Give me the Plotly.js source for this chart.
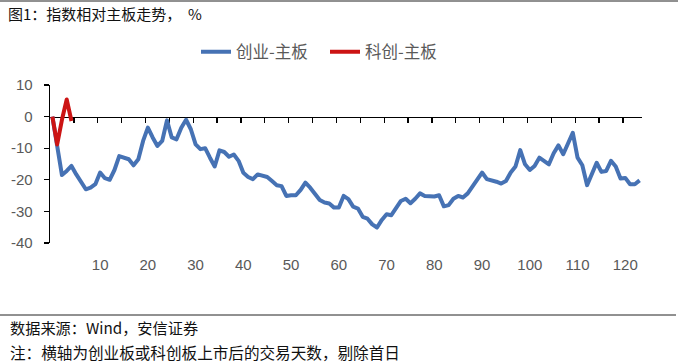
<!DOCTYPE html>
<html>
<head>
<meta charset="utf-8">
<script src="https://cdn.plot.ly/plotly-3.0.1.min.js"></script>
<style>
html,body{margin:0;padding:0;background:#fff;}
#chart{width:678px;height:362px;}
.js-line{stroke-linejoin:round;}
</style>
</head>
<body>
<div id="chart"></div>
<script>
// ---- data ----
var tradingDays = [0,1,2,3,4,5,6,7,8,9,10,11,12,13,14,15,16,17,18,19,20,21,22,23,24,25,26,27,28,29,30,31,32,33,34,35,36,37,38,39,40,41,42,43,44,45,46,47,48,49,50,51,52,53,54,55,56,57,58,59,60,61,62,63,64,65,66,67,68,69,70,71,72,73,74,75,76,77,78,79,80,81,82,83,84,85,86,87,88,89,90,91,92,93,94,95,96,97,98,99,100,101,102,103,104,105,106,107,108,109,110,111,112,113,114,115,116,117,118,119,120,121,122,123];
var chinextVsMain = [0,-9.3,-18.5,-17.2,-15.6,-18.3,-20.7,-23,-22.5,-21.4,
  -17.7,-19.5,-20,-16.9,-12.5,-13.1,-13.5,-15.4,-13.5,-7.7,
  -3.5,-6.6,-9.3,-7.7,-1.2,-6.6,-7.2,-3.5,-1.0,-4,
  -8.8,-10.3,-10,-13,-15.8,-10.7,-11.2,-12.7,-12,-14,
  -17.8,-19.1,-19.8,-18.3,-18.8,-19.1,-20.4,-21.7,-22,-25.1,
  -24.9,-24.9,-23.2,-20.9,-22.5,-24.6,-26.4,-27.2,-27.5,-28.8,
  -28.8,-25.1,-26.1,-28.5,-29.1,-31.7,-32.3,-34.1,-35.1,-32.7,
  -30.9,-31.2,-28.8,-26.7,-26,-27.4,-26,-24.3,-25.1,-25.2,
  -25.3,-24.9,-28.4,-28,-26,-25.1,-25.6,-24.3,-22.2,-20.1,
  -17.7,-19.8,-20.1,-20.6,-21.2,-20.4,-17.7,-15.8,-10.6,-15.1,
  -16.9,-15.6,-13,-14,-15.1,-11.6,-9.1,-11.9,-8.2,-5.1,
  -13,-15.4,-21.7,-18.3,-14.6,-17.5,-17.2,-14,-15.8,-19.6,
  -19.4,-21.4,-21.4,-20.2];
var starDays = [0,1,2,3,4];
var starVsMain = [0,-8.8,-1,5.4,-1.4];
var seriesNames = ['创业-主板','科创-主板'];
var xTickVals = [10,20,30,40,50,60,70,80,90,100,110,120];
var xTickText = ['10','20','30','40','50','60','70','80','90','100','110','120'];
var xMarkVals = [4.5,9.5,14.5,19.5,24.5,29.5,34.5,39.5,44.5,49.5,54.5,59.5,64.5,69.5,74.5,79.5,84.5,89.5,94.5,99.5,104.5,109.5,114.5,119.5];
var yTickVals = [-40,-30,-20,-10,0,10];
var yTickText = ['-40','-30','-20','-10','0','10'];
var titleText = '图1：指数相对主板走势，\u00a0\u00a0%';
var sourceText = '数据来源：Wind，安信证券';
var noteText = '注：横轴为创业板或科创板上市后的交易天数，剔除首日';

// ---- layout geometry ----
var L = 50, R = 36, T = 85, B = 119;
var W = 678 - L - R, H = 362 - T - B;
function px(xp){ return (xp - L) / W; }
function py(yp){ return (T + H - yp) / H; }

var cjk = 'Noto Sans CJK SC';
var tickFont = {family:'Liberation Sans, Arial, sans-serif', size:15, color:'#595959'};

var traces = [
  {x: tradingDays, y: chinextVsMain, type:'scatter', mode:'lines', name: seriesNames[0],
   xaxis:'x', yaxis:'y', legend:'legend',
   line:{color:'#4672B4', width:4}},
  {x: starDays, y: starVsMain, type:'scatter', mode:'lines', name: seriesNames[1],
   xaxis:'x2', yaxis:'y', legend:'legend2',
   line:{color:'#CC1414', width:4}}
];

var layout = {
  width:678, height:362,
  margin:{l:L, r:R, t:T, b:B, pad:0},
  paper_bgcolor:'#fff', plot_bgcolor:'#fff',
  showlegend:true,
  title:{text:titleText, xref:'container', yref:'container', x:8/678, xanchor:'left',
         y:1-15/362, yanchor:'middle',
         font:{family:cjk, size:15, color:'#111'}},
  xaxis:{range:[-0.5,123.5], tickvals:xTickVals, ticktext:xTickText,
         showline:false, showgrid:false, zeroline:false, ticks:'',
         ticklabelstandoff:11, tickfont:tickFont, fixedrange:true},
  xaxis2:{range:[-0.5,123.5], overlaying:'x', anchor:'free', position:0.8,
          tickvals:xMarkVals, showticklabels:false, ticks:'outside', ticklen:5,
          tickwidth:1.3, tickcolor:'#000', showline:true, linecolor:'#000', linewidth:1.3,
          showgrid:false, zeroline:false, layer:'below traces'},
  yaxis:{range:[-40,10], tickvals:yTickVals, ticktext:yTickText,
         showline:true, linecolor:'#000', linewidth:1.3, ticks:'outside', ticklen:5,
         tickwidth:1.3, tickcolor:'#000', showgrid:false, zeroline:false,
         ticklabelstandoff:8, tickfont:tickFont},
  legend:{orientation:'h', x:px(196), xanchor:'left', y:py(52), yanchor:'middle',
          font:{family:cjk, size:16.5, color:'#595959'}, bgcolor:'rgba(0,0,0,0)', borderwidth:0},
  legend2:{orientation:'h', x:px(325), xanchor:'left', y:py(52), yanchor:'middle',
          font:{family:cjk, size:16.5, color:'#595959'}, bgcolor:'rgba(0,0,0,0)', borderwidth:0},
  annotations:[
    {text:sourceText, xref:'paper', yref:'paper', x:px(8), y:py(327), xanchor:'left', yanchor:'middle',
     showarrow:false, font:{family:cjk, size:15.2, color:'#111'}},
    {text:noteText, xref:'paper', yref:'paper', x:px(8), y:py(352), xanchor:'left', yanchor:'middle',
     showarrow:false, font:{family:cjk, size:15.6, color:'#111'}}
  ],
  shapes:[
    {type:'line', xref:'paper', yref:'paper', x0:px(0), x1:px(678), y0:py(1), y1:py(1),
     line:{color:'#222', width:1}},
    {type:'line', xref:'paper', yref:'paper', x0:px(0), x1:px(676), y0:py(315), y1:py(315),
     line:{color:'#222', width:1}}
  ]
};

Plotly.newPlot('chart', traces, layout, {displayModeBar:false, staticPlot:true});
</script>
</body>
</html>
